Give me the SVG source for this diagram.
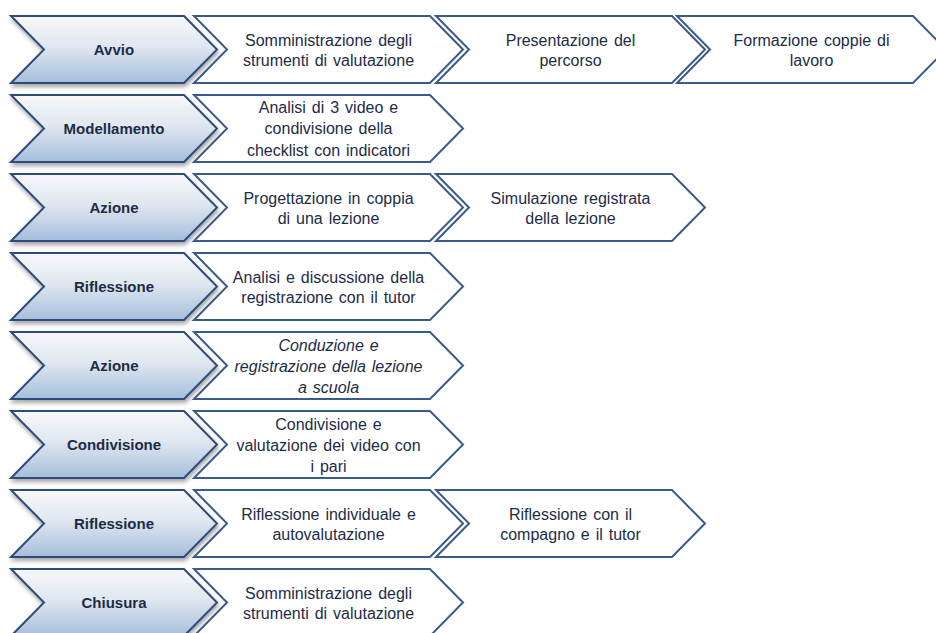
<svg xmlns="http://www.w3.org/2000/svg" xmlns:xlink="http://www.w3.org/1999/xlink" width="936" height="633" viewBox="0 0 936 633">
<defs>
<linearGradient id="bg" x1="0" y1="0" x2="0" y2="1">
<stop offset="0" stop-color="#f7f8fa"/>
<stop offset="0.45" stop-color="#e0e7f0"/>
<stop offset="1" stop-color="#a5bedc"/>
</linearGradient>
<filter id="sh" x="-10%" y="-20%" width="130%" height="150%">
<feDropShadow dx="1" dy="3" stdDeviation="2" flood-color="#000" flood-opacity="0.35"/>
</filter>
<path id="bc" d="M11,-33.5 L184,-33.5 L217,0 L184,33.5 L11,33.5 L44,0 Z"/>
<path id="wc" d="M0,-33.5 L236,-33.5 L269,0 L236,33.5 L0,33.5 L33,0 Z"/>
</defs>
<style>
.b{fill:url(#bg);stroke:#2d4c7a;stroke-width:2;stroke-linejoin:miter;filter:url(#sh)}
.w{fill:#fff;stroke:#3a5a8b;stroke-width:2;stroke-linejoin:miter}
text{font-family:"Liberation Sans",Arial,sans-serif;fill:#1d2c46;text-anchor:middle}
.bt{font-size:15px;font-weight:bold}
.wt{font-size:16px;word-spacing:1.5px}
.it{font-style:italic}
</style>
<rect width="936" height="633" fill="#fff"/>
<g id="connectors"/>

<g id="r1" transform="translate(0,49.5)">
<g id="n1"><use xlink:href="#bc" class="b"/><text class="bt" x="114" y="5.5">Avvio</text></g>
<g id="n1a" transform="translate(194,0)"><use xlink:href="#wc" class="w"/><text class="wt" x="134.5" y="-3.5">Somministrazione degli</text><text class="wt" x="134.5" y="16.5">strumenti di valutazione</text></g>
<g id="n1b" transform="translate(436,0)"><use xlink:href="#wc" class="w"/><text class="wt" x="134.5" y="-3.5">Presentazione del</text><text class="wt" x="134.5" y="16.5">percorso</text></g>
<g id="n1c" transform="translate(677,0)"><use xlink:href="#wc" class="w"/><text class="wt" x="134.5" y="-3.5">Formazione coppie di</text><text class="wt" x="134.5" y="16.5">lavoro</text></g>
</g>

<g id="r2" transform="translate(0,128.5)">
<g id="n2"><use xlink:href="#bc" class="b"/><text class="bt" x="114" y="5.5">Modellamento</text></g>
<g id="n2a" transform="translate(194,0)"><use xlink:href="#wc" class="w"/><text class="wt" x="134.5" y="-16">Analisi di 3 video e</text><text class="wt" x="134.5" y="5.5">condivisione della</text><text class="wt" x="134.5" y="27">checklist con indicatori</text></g>
</g>

<g id="r3" transform="translate(0,207.5)">
<g id="n3"><use xlink:href="#bc" class="b"/><text class="bt" x="114" y="5.5">Azione</text></g>
<g id="n3a" transform="translate(194,0)"><use xlink:href="#wc" class="w"/><text class="wt" x="134.5" y="-3.5">Progettazione in coppia</text><text class="wt" x="134.5" y="16.5">di una lezione</text></g>
<g id="n3b" transform="translate(436,0)"><use xlink:href="#wc" class="w"/><text class="wt" x="134.5" y="-3.5">Simulazione registrata</text><text class="wt" x="134.5" y="16.5">della lezione</text></g>
</g>

<g id="r4" transform="translate(0,286.5)">
<g id="n4"><use xlink:href="#bc" class="b"/><text class="bt" x="114" y="5.5">Riflessione</text></g>
<g id="n4a" transform="translate(194,0)"><use xlink:href="#wc" class="w"/><text class="wt" x="134.5" y="-3.5">Analisi e discussione della</text><text class="wt" x="134.5" y="16.5">registrazione con il tutor</text></g>
</g>

<g id="r5" transform="translate(0,365.5)">
<g id="n5"><use xlink:href="#bc" class="b"/><text class="bt" x="114" y="5.5">Azione</text></g>
<g id="n5a" transform="translate(194,0)"><use xlink:href="#wc" class="w"/><text class="wt it" x="134.5" y="-15">Conduzione e</text><text class="wt it" x="134.5" y="6">registrazione della lezione</text><text class="wt it" x="134.5" y="27">a scuola</text></g>
</g>

<g id="r6" transform="translate(0,444.5)">
<g id="n6"><use xlink:href="#bc" class="b"/><text class="bt" x="114" y="5.5">Condivisione</text></g>
<g id="n6a" transform="translate(194,0)"><use xlink:href="#wc" class="w"/><text class="wt" x="134.5" y="-15">Condivisione e</text><text class="wt" x="134.5" y="6">valutazione dei video con</text><text class="wt" x="134.5" y="27">i pari</text></g>
</g>

<g id="r7" transform="translate(0,523.5)">
<g id="n7"><use xlink:href="#bc" class="b"/><text class="bt" x="114" y="5.5">Riflessione</text></g>
<g id="n7a" transform="translate(194,0)"><use xlink:href="#wc" class="w"/><text class="wt" x="134.5" y="-3.5">Riflessione individuale e</text><text class="wt" x="134.5" y="16.5">autovalutazione</text></g>
<g id="n7b" transform="translate(436,0)"><use xlink:href="#wc" class="w"/><text class="wt" x="134.5" y="-3.5">Riflessione con il</text><text class="wt" x="134.5" y="16.5">compagno e il tutor</text></g>
</g>

<g id="r8" transform="translate(0,602.5)">
<g id="n8"><use xlink:href="#bc" class="b"/><text class="bt" x="114" y="5.5">Chiusura</text></g>
<g id="n8a" transform="translate(194,0)"><use xlink:href="#wc" class="w"/><text class="wt" x="134.5" y="-3.5">Somministrazione degli</text><text class="wt" x="134.5" y="16.5">strumenti di valutazione</text></g>
</g>
</svg>
